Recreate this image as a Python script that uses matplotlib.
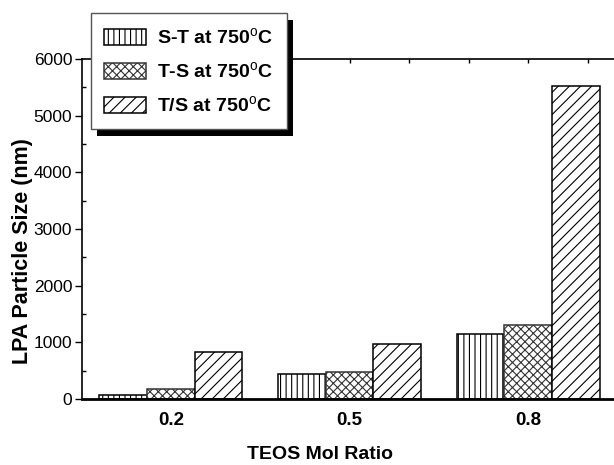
import matplotlib
matplotlib.use('Agg')
import matplotlib.pyplot as plt
from matplotlib.patches import Rectangle
from matplotlib.transforms import IdentityTransform
import numpy as np

params = {'font.family': ['Liberation Sans', 'DejaVu Sans'],
          'mathtext.fontset': 'custom',
          'mathtext.rm': 'Liberation Sans',
          'mathtext.bf': 'Liberation Sans:bold',
          'hatch.linewidth': 0.8,
          'axes.linewidth': 1.2,
          }
plt.rcParams.update(params)

#################### DATA ##############################
ratios = [0.2, 0.5, 0.8]
ratio_labels = ['0.2', '0.5', '0.8']
size_st = [65, 435, 1150]      # S-T at 750 C
size_ts = [176, 470, 1300]     # T-S at 750 C
size_tslash = [835, 965, 5520] # T/S at 750 C
series_labels = [r'S-T at 750$^{\mathrm{o}}$C',
                 r'T-S at 750$^{\mathrm{o}}$C',
                 r'T/S at 750$^{\mathrm{o}}$C']

#################### PLOT ##############################
fig = plt.figure(figsize=(6.14, 4.65), dpi=100)
ax = fig.add_axes([0.1336, 0.1419, 0.8664, 0.7312])

x = np.array(ratios)
w = 0.08
ax.bar(x - w, size_st, w, color='white', edgecolor='black', lw=1.1,
       hatch='|||', label=series_labels[0], zorder=2)
ax.bar(x, size_ts, w, color='white', edgecolor='#333333', lw=1.1,
       hatch='xxxx', label=series_labels[1], zorder=2)
ax.bar(x + w, size_tslash, w, color='white', edgecolor='black', lw=1.1,
       hatch='///', label=series_labels[2], zorder=2)

ax.set_xlim(0.051, 0.944)
ax.set_ylim(0, 6000)
ax.set_xticks(ratios)
ax.set_xticklabels(ratio_labels, fontsize=13.5, fontweight='bold')
ax.set_xticks(np.arange(0.1, 0.95, 0.1), minor=True)
ax.set_yticks(np.arange(0, 6001, 1000))
ax.set_yticks(np.arange(500, 6000, 1000), minor=True)
ax.tick_params(axis='y', which='major', direction='out', length=5, width=1,
               labelsize=12.5, pad=2)
ax.tick_params(axis='y', which='minor', direction='in', length=3, width=1)
ax.tick_params(axis='x', which='both', direction='in', top=True, pad=9,
               length=3, width=1)
ax.spines['right'].set_visible(False)
ax.spines['bottom'].set_linewidth(2)

ax.set_xlabel('TEOS Mol Ratio', fontsize=14, fontweight='bold')
ax.xaxis.set_label_coords(0.447, -0.138)
ax.set_ylabel('LPA Particle Size (nm)', fontsize=15.5, fontweight='bold')
ax.yaxis.set_label_coords(-0.092, 0.435)

leg = ax.legend(loc='upper left', bbox_to_anchor=(0.148, 0.971),
                bbox_transform=fig.transFigure, borderaxespad=0,
                prop={'weight': 'bold', 'size': 14},
                handlelength=2.15, handleheight=0.93, handletextpad=0.57,
                labelspacing=0.68, borderpad=0.7, fancybox=False,
                framealpha=1, edgecolor='#555555')
leg.get_frame().set_linewidth(1)
leg.set_zorder(6)

# drop shadow behind the legend box
fig.canvas.draw()
bb = leg.get_window_extent()
shadow = Rectangle((bb.x0 + 6, bb.y0 - 7), bb.width, bb.height,
                   transform=IdentityTransform(), facecolor='black',
                   edgecolor='none', clip_on=False, zorder=5.5)
ax.add_patch(shadow)

fig.savefig('out.png', dpi=100)
